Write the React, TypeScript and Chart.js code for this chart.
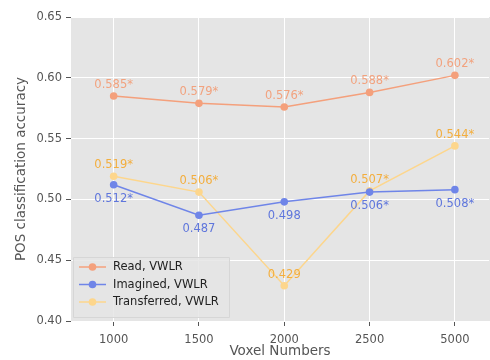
import React, { useEffect, useRef } from "react";
import { Chart, registerables } from "chart.js";

Chart.register(...registerables);

const categories = ["1000", "1500", "2000", "2500", "5000"];
const readValues = [0.585, 0.579, 0.576, 0.588, 0.602];
const imaginedValues = [0.512, 0.487, 0.498, 0.506, 0.508];
const transferredValues = [0.519, 0.506, 0.429, 0.507, 0.544];
const readLabels = ["0.585*", "0.579*", "0.576*", "0.588*", "0.602*"];
const imaginedLabels = ["0.512*", "0.487", "0.498", "0.506*", "0.508*"];
const transferredLabels = ["0.519*", "0.506*", "0.429", "0.507*", "0.544*"];
const yTicks = [0.4, 0.45, 0.5, 0.55, 0.6, 0.65];

const FONT = "'DejaVu Sans', sans-serif";
const READ_COLOR = "#F4A07C";
const READ_LABEL = "#F2A27E";
const IMAG_COLOR = "#6F85E8";
const IMAG_LABEL = "#5F76DC";
const TRANS_COLOR = "#FDD68C";
const TRANS_LABEL = "#F3AE3E";

const seriesLabels = [
  { texts: readLabels, color: READ_LABEL, dy: -11 },
  { texts: imaginedLabels, color: IMAG_LABEL, dy: 14 },
  { texts: transferredLabels, color: TRANS_LABEL, dy: -11 },
];

const bgPlugin = {
  id: "plotBg",
  beforeDraw(chart: any) {
    const { ctx, chartArea } = chart;
    ctx.save();
    ctx.fillStyle = "#E5E5E5";
    ctx.fillRect(chartArea.left, chartArea.top, chartArea.right - chartArea.left + 4, chartArea.bottom - chartArea.top);
    ctx.restore();
  },
  afterDatasetsDraw(chart: any) {
    const { ctx } = chart;
    ctx.save();
    ctx.font = `11.5px ${FONT}`;
    ctx.textAlign = "center";
    ctx.textBaseline = "middle";
    seriesLabels.forEach((s, di) => {
      const meta = chart.getDatasetMeta(di);
      meta.data.forEach((pt: any, i: number) => {
        ctx.fillStyle = s.color;
        ctx.fillText(s.texts[i], pt.x, pt.y + s.dy);
      });
    });
    // legend
    const x0 = 73, y0 = 257, w = 156, h = 60;
    ctx.fillStyle = "rgba(229,229,229,0.85)";
    ctx.strokeStyle = "#D6D6D6";
    ctx.lineWidth = 1;
    ctx.beginPath();
    ctx.rect(x0 + 0.5, y0 + 0.5, w, h);
    ctx.fill();
    ctx.stroke();
    const items = [
      { label: "Read, VWLR", color: READ_COLOR },
      { label: "Imagined, VWLR", color: IMAG_COLOR },
      { label: "Transferred, VWLR", color: TRANS_COLOR },
    ];
    ctx.textAlign = "left";
    items.forEach((it, i) => {
      const y = 267 + i * 17.5;
      ctx.strokeStyle = it.color;
      ctx.lineWidth = 1.5;
      ctx.beginPath();
      ctx.moveTo(79, y);
      ctx.lineTo(106, y);
      ctx.stroke();
      ctx.fillStyle = it.color;
      ctx.beginPath();
      ctx.arc(92.5, y, 3.8, 0, Math.PI * 2);
      ctx.fill();
      ctx.fillStyle = "#222222";
      ctx.fillText(it.label, 113, y + 0.5);
    });
    ctx.restore();
  },
};

export default function App() {
  const ref = useRef<HTMLCanvasElement>(null);
  useEffect(() => {
    if (!ref.current) return;
    const mk = (vals: number[]) => vals.map((v, i) => ({ x: i, y: v }));
    const chart = new Chart(ref.current, {
      type: "line",
      data: {
        datasets: [
          { label: "Read, VWLR", data: mk(readValues), borderColor: READ_COLOR, backgroundColor: READ_COLOR, borderWidth: 1.5, pointRadius: 3.8, pointBorderWidth: 0 },
          { label: "Imagined, VWLR", data: mk(imaginedValues), borderColor: IMAG_COLOR, backgroundColor: IMAG_COLOR, borderWidth: 1.5, pointRadius: 3.8, pointBorderWidth: 0 },
          { label: "Transferred, VWLR", data: mk(transferredValues), borderColor: TRANS_COLOR, backgroundColor: TRANS_COLOR, borderWidth: 1.5, pointRadius: 3.8, pointBorderWidth: 0 },
        ],
      },
      options: {
        animation: false,
        responsive: false,
        devicePixelRatio: 1,
        layout: { padding: { top: 17, right: 0, left: 0, bottom: 0 } },
        plugins: { legend: { display: false }, tooltip: { enabled: false } },
        scales: {
          x: {
            type: "linear",
            min: -0.5,
            max: 4.4,
            afterBuildTicks: (scale: any) => {
              scale.ticks = categories.map((_, i) => ({ value: i }));
            },
            afterFit: (scale: any) => {
              scale.height = 39;
            },
            ticks: {
              callback: (v: any) => categories[v as number] ?? "",
              color: "#555555",
              font: { family: FONT, size: 11.5 },
              padding: 7,
              maxRotation: 0,
              autoSkip: false,
            },
            grid: { color: "#FFFFFF", lineWidth: 1, tickColor: "#555555", tickLength: 5 },
            border: { display: false },
            title: { display: true, text: "Voxel Numbers", color: "#555555", font: { family: FONT, size: 13.5 }, padding: { top: 0, bottom: 0 } },
          },
          y: {
            min: 0.4,
            max: 0.65,
            afterBuildTicks: (scale: any) => {
              scale.ticks = yTicks.map((v) => ({ value: v }));
            },
            afterFit: (scale: any) => {
              scale.width = 71;
            },
            ticks: {
              callback: (v: any) => Number(v).toFixed(2),
              color: "#555555",
              font: { family: FONT, size: 11.5 },
              padding: 4,
            },
            grid: { color: "#FFFFFF", lineWidth: 1, tickColor: "#555555", tickLength: 5 },
            border: { display: false },
            title: { display: true, text: "POS classification accuracy", color: "#555555", font: { family: FONT, size: 13.5 }, padding: { top: 13, bottom: 0 } },
          },
        },
      },
      plugins: [bgPlugin],
    } as any);
    return () => chart.destroy();
  }, []);
  return (
    <div style={{ position: "fixed", left: 0, top: 0, width: 490, height: 360, overflow: "hidden", background: "#fff" }}>
      <canvas ref={ref} width={493} height={360} style={{ display: "block" }} />
    </div>
  );
}
